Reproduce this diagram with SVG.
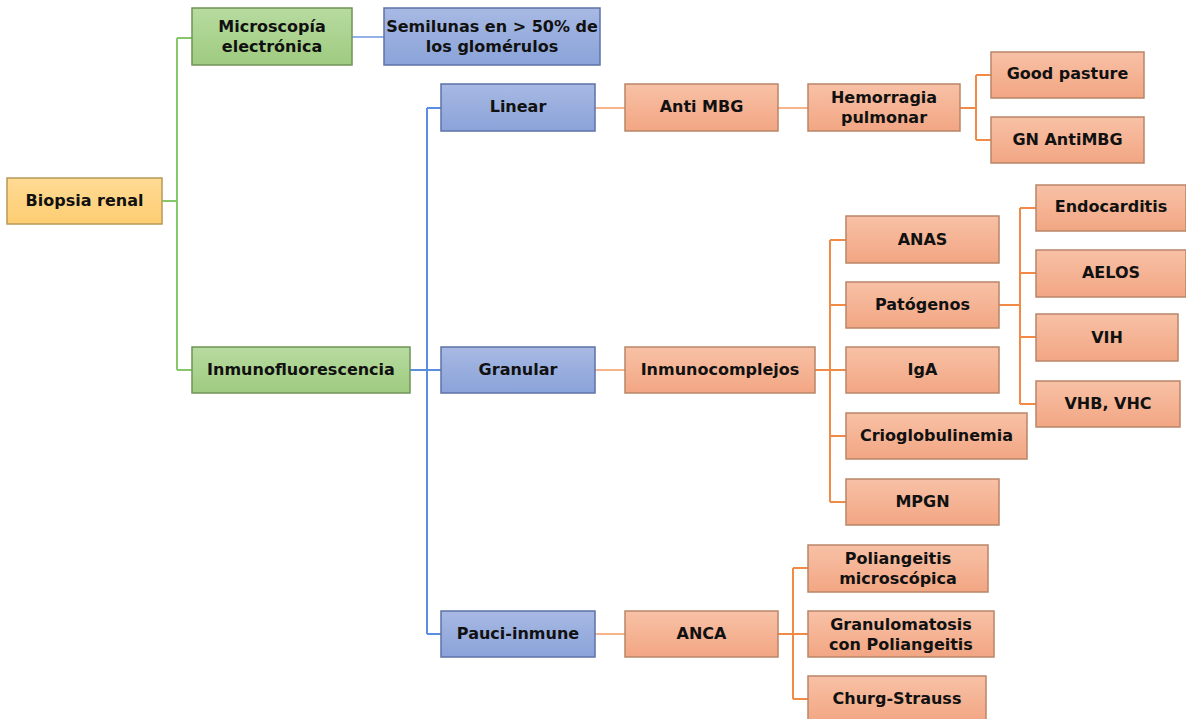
<svg xmlns="http://www.w3.org/2000/svg" width="1186" height="719" viewBox="0 0 1186 719">
<defs>
<linearGradient id="gY" x1="0" y1="0" x2="0" y2="1"><stop offset="0" stop-color="#ffdb95"/><stop offset="1" stop-color="#fdcd72"/></linearGradient>
<linearGradient id="gG" x1="0" y1="0" x2="0" y2="1"><stop offset="0" stop-color="#b7dba0"/><stop offset="1" stop-color="#9fcb80"/></linearGradient>
<linearGradient id="gB" x1="0" y1="0" x2="0" y2="1"><stop offset="0" stop-color="#a8b9e3"/><stop offset="1" stop-color="#8aa3d9"/></linearGradient>
<linearGradient id="gO" x1="0" y1="0" x2="0" y2="1"><stop offset="0" stop-color="#f8c1a6"/><stop offset="1" stop-color="#f2a683"/></linearGradient>
</defs>
<style>
rect{stroke-width:1.5}
.y{fill:url(#gY);stroke:#b8995a}
.g{fill:url(#gG);stroke:#6f9457}
.b{fill:url(#gB);stroke:#5e72a6}
.o{fill:url(#gO);stroke:#b98568}
text{font-family:"DejaVu Sans","Open Sans",sans-serif;font-weight:bold;font-size:16px;fill:#111;text-anchor:middle;dominant-baseline:central}
.c path{fill:none;stroke-width:2}
.cg{stroke:#86c76a}
.cb{stroke:#5b8de0}
.cbl{stroke:#93b2ea}
.col{stroke:#f7b48a}
.co{stroke:#f08a45}
</style>
<g class="c" id="connectors">
<path class="cg" d="M162 201H177M177 38V370M177 38H192M177 370H192"/>
<path class="cbl" d="M352 37H384"/>
<path class="cb" d="M410 370H427M427 108V634M427 108H441M427 370H441M427 634H441"/>
<path class="col" d="M595 108H625M778 108H808M595 370H625M595 634H625"/>
<path class="co" d="M960 108H976M976 75V140M976 75H991M976 140H991"/>
<path class="co" d="M815 370H830M830 240V502M830 240H846M830 305H846M830 370H846M830 436H846M830 502H846"/>
<path class="co" d="M999 305H1020M1020 208V404M1020 208H1036M1020 273H1036M1020 337H1036M1020 404H1036"/>
<path class="co" d="M778 634H793M793 568V699M793 568H808M793 634H808M793 699H808"/>
</g>
<g id="biopsia"><rect class="y" x="7" y="178" width="155" height="46"/><text x="84.5" y="200">Biopsia renal</text></g>
<g id="microscopia"><rect class="g" x="192" y="8" width="160" height="57"/><text x="272" y="26">Microscopía</text><text x="272" y="46">electrónica</text></g>
<g id="semilunas"><rect class="b" x="384" y="8" width="216" height="57"/><text x="492" y="26">Semilunas en &gt; 50% de</text><text x="492" y="46">los glomérulos</text></g>
<g id="inmuno"><rect class="g" x="192" y="347" width="218" height="46"/><text x="301" y="369">Inmunofluorescencia</text></g>
<g id="linear"><rect class="b" x="441" y="84" width="154" height="47"/><text x="518" y="106">Linear</text></g>
<g id="granular"><rect class="b" x="441" y="347" width="154" height="46"/><text x="518" y="369">Granular</text></g>
<g id="pauci"><rect class="b" x="441" y="611" width="154" height="46"/><text x="518" y="633">Pauci-inmune</text></g>
<g id="antimbg"><rect class="o" x="625" y="84" width="153" height="47"/><text x="701.5" y="106">Anti MBG</text></g>
<g id="hemorragia"><rect class="o" x="808" y="84" width="152" height="47"/><text x="884" y="97">Hemorragia</text><text x="884" y="117">pulmonar</text></g>
<g id="goodpasture"><rect class="o" x="991" y="52" width="153" height="46"/><text x="1067.5" y="73">Good pasture</text></g>
<g id="gnantimbg"><rect class="o" x="991" y="117" width="153" height="46"/><text x="1067.5" y="139">GN AntiMBG</text></g>
<g id="inmunocomplejos"><rect class="o" x="625" y="347" width="190" height="46"/><text x="720" y="369">Inmunocomplejos</text></g>
<g id="anas"><rect class="o" x="846" y="216" width="153" height="47"/><text x="922.5" y="239">ANAS</text></g>
<g id="patogenos"><rect class="o" x="846" y="282" width="153" height="46"/><text x="922.5" y="304">Patógenos</text></g>
<g id="iga"><rect class="o" x="846" y="347" width="153" height="46"/><text x="922.5" y="369">IgA</text></g>
<g id="crio"><rect class="o" x="846" y="413" width="181" height="46"/><text x="936.5" y="435">Crioglobulinemia</text></g>
<g id="mpgn"><rect class="o" x="846" y="479" width="153" height="46"/><text x="922.5" y="501">MPGN</text></g>
<g id="endocarditis"><rect class="o" x="1036" y="185" width="150" height="46"/><text x="1111" y="206">Endocarditis</text></g>
<g id="aelos"><rect class="o" x="1036" y="250" width="150" height="47"/><text x="1111" y="272">AELOS</text></g>
<g id="vih"><rect class="o" x="1036" y="314" width="142" height="47"/><text x="1107" y="337">VIH</text></g>
<g id="vhb"><rect class="o" x="1036" y="381" width="144" height="46"/><text x="1108" y="403">VHB, VHC</text></g>
<g id="anca"><rect class="o" x="625" y="611" width="153" height="46"/><text x="701.5" y="633">ANCA</text></g>
<g id="poliangeitis"><rect class="o" x="808" y="545" width="180" height="47"/><text x="898" y="558">Poliangeitis</text><text x="898" y="578">microscópica</text></g>
<g id="granulomatosis"><rect class="o" x="808" y="611" width="186" height="46"/><text x="901" y="624">Granulomatosis</text><text x="901" y="644">con Poliangeitis</text></g>
<g id="churg"><rect class="o" x="808" y="676" width="178" height="46"/><text x="897" y="698">Churg-Strauss</text></g>
</svg>
